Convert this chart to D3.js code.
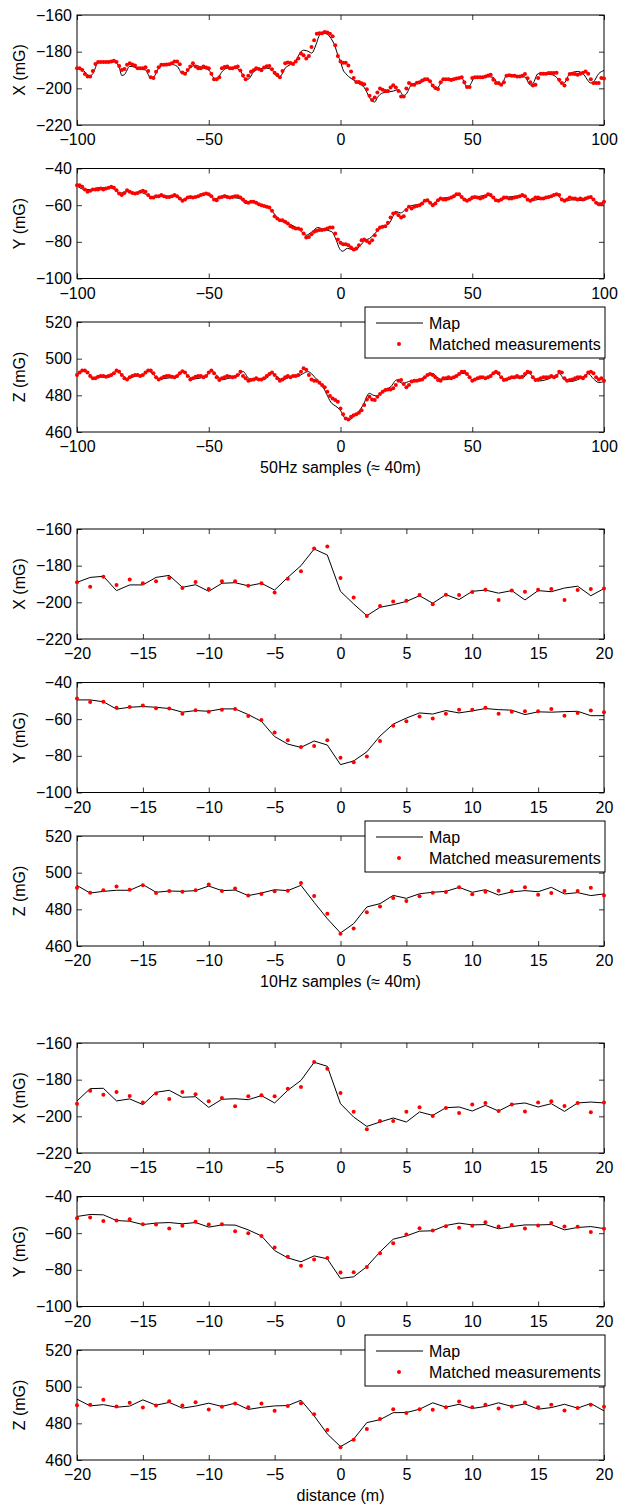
<!DOCTYPE html>
<html><head><meta charset="utf-8">
<script src="https://cdn.jsdelivr.net/npm/d3@7"></script>
<style>
body{margin:0;background:#fff}
svg text{font-family:"Liberation Sans",Arial,Helvetica,sans-serif;fill:#000}
</style>
</head><body>
<svg id="chart" width="620" height="1505"></svg>
<script>
// ---------------- DATA ----------------
// 50 Hz samples (-100..100), measurement dots at every sample
const samples50 = d3.range(-100, 101);
const dotX50 = [
-189.1,-189.1,-190,-192.2,-193.6,-193.6,-190.5,-186.7,-185.6,-185.6,
-185.6,-185.6,-185.6,-185.3,-184.9,-185.6,-187.8,-190,-189.5,-187.2,
-186.3,-187,-187.6,-189,-189,-189,-188.5,-190.5,-194,-194.4,
-190.9,-188.5,-187.2,-187.2,-187,-186.9,-186.3,-185.4,-185.4,-186.9,
-191.4,-192,-190,-188.1,-186.3,-188.1,-189,-189,-188.1,-188.6,
-189,-192,-195,-195,-194,-189,-188.3,-188.1,-189,-189,
-188.5,-188.1,-190.3,-193,-195,-193.2,-191,-190.1,-189,-189.5,
-190.1,-188.7,-188,-187.8,-189.6,-191.5,-192.6,-193.9,-190.5,-186.3,
-185.9,-186.2,-186.7,-185.4,-183.7,-181,-181.9,-183.7,-182.4,-177.4,
-173.8,-170.2,-170,-169.9,-169.3,-169.5,-170.2,-171.6,-176.5,-182.4,
-185.4,-186,-186,-187.5,-190.8,-194.4,-196.6,-196.6,-197.2,-197.8,
-200.5,-204.1,-206.3,-205,-202.3,-200.1,-200.8,-201.4,-201.4,-199.6,
-198.3,-199.6,-201.4,-204.5,-204.5,-200.1,-197.1,-198,-198,-197,
-196.7,-195.7,-195,-195,-196.2,-198.5,-199.8,-200.3,-196.7,-195,
-195,-195,-195.4,-195,-194.6,-194.4,-193.9,-196.7,-199.3,-199.3,
-194.4,-193.9,-193.9,-193.9,-193.9,-193.5,-193,-192.6,-195.3,-197.1,
-197.1,-198,-196.7,-193.2,-192.8,-193.2,-193.2,-193.5,-193.5,-193.2,
-192.2,-194.5,-196.7,-198.5,-198,-194.4,-192,-192,-192,-191.7,
-191.7,-191.7,-191.5,-195.3,-197.1,-198.5,-195,-192.2,-192,-192.2,
-192.6,-192,-191.5,-190.8,-192,-195,-197.1,-197.1,-197.1,-194.4,
-194.6];
const dotY50 = [
-49.1,-49.1,-50,-51.5,-52.7,-52.2,-51.5,-51.5,-51.5,-50.9,
-51.5,-50.9,-50.5,-50,-50.5,-51.8,-53.6,-54.5,-53.3,-51.8,
-52.7,-53.3,-53.6,-53.3,-52.7,-52.2,-52.7,-54.5,-55.8,-55.8,
-55.1,-55.1,-54.5,-55.1,-55.5,-55.5,-55.1,-54.5,-55.1,-56.4,
-57.6,-56.9,-55.8,-55.5,-55.8,-55.5,-55.1,-54.5,-54,-53.6,
-54,-55.1,-56.9,-57.3,-55.8,-55.5,-55.1,-55.5,-55.8,-55.5,
-55.1,-55.1,-55.8,-56.9,-58.2,-58.7,-58.2,-58.2,-58.7,-59.5,
-60,-60.5,-60.9,-61.3,-63.1,-66,-67.3,-68.2,-68.2,-69.1,
-70,-71.5,-72.2,-72.7,-72.7,-73.3,-75.5,-77.6,-77.3,-75.8,
-74.5,-74,-73.6,-73.6,-73.3,-72.7,-72.2,-72.2,-75.5,-78.7,
-80.5,-81.3,-81.3,-81.8,-83.1,-84.2,-83.6,-81.8,-79.1,-78.7,
-79.5,-80.5,-79.1,-76.4,-73.6,-72.2,-71.8,-71.5,-69.6,-66.7,
-64.5,-64.2,-65.5,-66.7,-66,-62.7,-60.9,-61.8,-60.9,-60.5,
-60,-59.1,-57.6,-57.3,-58.7,-60,-59.1,-57.3,-56.4,-56.9,
-56.9,-56.4,-55.8,-55.1,-54,-54,-55.5,-56.9,-57.6,-56.9,
-55.8,-55.5,-55.8,-56.4,-55.8,-55.1,-54,-54.5,-55.8,-57.3,
-57.6,-56.9,-55.8,-55.8,-56.4,-56.4,-55.8,-55.5,-55.1,-54.5,
-55.1,-56.9,-57.6,-56.9,-55.8,-55.8,-56.4,-56.4,-55.8,-55.5,
-55.1,-54.5,-54,-54.5,-56.9,-57.6,-56.9,-55.8,-56.4,-56.4,
-56.9,-56.4,-56.9,-56.4,-55.8,-55.5,-56.9,-58.7,-59.5,-59.5,
-58.2];
const dotZ50 = [
491.1,492.4,493.5,493.5,492.4,490.6,489.3,489.3,490.2,490.6,
490.6,490.2,490.6,491.1,492,493.5,492.9,491.1,489.3,488.7,
489.8,490.6,491.1,491.1,490.6,491.1,492.4,493.5,493.5,492,
489.8,488.7,489.3,490.2,490.6,490.6,490.2,489.8,490.6,492,
493.1,492.4,490.6,488.7,489.3,490.2,490.6,490.6,489.8,490.6,
492.4,493.5,492,489.8,488.4,489.3,489.8,490.6,490.2,489.8,
490.2,491.1,492.9,490.6,489.3,488,488.4,488.7,489.3,488.7,
488.7,489.3,490.6,491.7,492.4,491.1,489.3,488,488.7,489.8,
490.6,489.8,490.6,490.6,491.1,492.9,494.8,493.9,491.1,488.7,
488,488,486.9,485.6,484.4,482,479.6,478.3,477.4,476.5,
472.8,469.7,467.3,466.8,468.3,469.2,469.7,470.5,471.9,474.7,
477.7,479.2,477.7,477.4,479.2,480.7,482,482.9,483.2,483.2,
483.8,485.6,488,488.4,486.2,484.4,485.6,487.5,488,488,
488.4,488.7,489.8,491.1,491.7,491.1,489.8,488.4,488,489.3,
489.3,489.8,489.3,489.8,490.6,491.7,492.9,492.9,491.7,489.8,
488,488.7,489.3,489.8,489.8,489.3,489.8,490.6,492,492.9,
492,489.8,488.4,488.7,489.3,489.8,489.8,490.6,489.8,490.2,
491.7,492.9,492.4,489.8,488.4,488.7,489.3,489.8,489.8,489.8,
490.6,489.8,490.6,492.9,492.4,489.3,488,488.4,488.7,489.3,
489.8,489.8,489.3,490.6,492.4,492.9,492,489.8,488.7,489.3,
488];
// 50 Hz map curve, read at key sample positions
const mapX50s = [-100,-98,-96,-95,-94,-92,-90,-88,-86,-84,-83,-82,-80,-78,-76,-74,-72,-71,-69,-67,-64,-62,-60,-59,-57,-55,-52,-50,-48,-47,-45,-43,-40,-38,-36,-35,-33,-31,-28,-26,-24,-23,-21,-19,-17,-15,-14,-12,-11,-9,-8,-7,-6,-5,-4,-2,-1,0,1,2,3,5,7,9,11,12,13,14,16,18,20,22,24,25,27,30,33,34,36,37,39,43,46,48,49,51,55,58,60,61,63,67,70,72,73,75,80,82,84,85,87,90,92,95,96,98,100];
const mapX50 = [-189,-189.8,-192.5,-193.3,-192,-186,-185.5,-185.7,-185.5,-188.5,-193,-192.5,-188,-188.5,-189.5,-190,-194.5,-194,-189,-187,-187,-188,-192,-192,-188.5,-187.5,-189,-190,-194.5,-195,-191,-189,-189,-190.5,-195,-195,-191,-189.5,-189,-190,-193.5,-193.5,-189,-187,-185,-180,-179.2,-180,-180.8,-175,-171,-170.2,-170.1,-170.5,-172,-177.4,-182,-185.4,-190,-192,-193.5,-195.5,-197.5,-199.5,-205,-207,-207.4,-205,-202.5,-202,-201.5,-200.7,-204,-203,-198,-197,-195.5,-196.5,-200.4,-199.5,-195.5,-194.6,-194.5,-199.3,-198.5,-194,-193.6,-194,-198,-198,-193.2,-193.5,-193.8,-198.2,-197.5,-192,-192.5,-194,-197.5,-197,-192,-190.8,-192,-197.1,-196.5,-192,-190.3];
const mapY50s = [-100,-97,-95,-92,-88,-86,-84,-82,-80,-78,-76,-74,-72,-70,-67,-64,-62,-60,-58,-55,-52,-50,-48,-46,-44,-42,-40,-38,-36,-34,-32,-29.6,-27.3,-25.5,-24.3,-22,-19,-15.4,-13.1,-10.9,-8.6,-6.4,-3.3,-1.6,-0.4,0.8,2.6,4,5.6,7.5,9.4,11,12.4,15.4,18.4,21.3,22.8,25.8,27.8,30,32.6,34.8,37.1,39.3,42,44.5,47,49,52,56,59,61,64,69,72,74,78,82,85,88,92,95,98,100];
const mapY50 = [-49.5,-51.5,-51.5,-50.5,-50.5,-51,-53.5,-53,-52.5,-53.5,-53,-54,-55.5,-55.5,-55,-55.5,-55,-57,-56,-55.5,-54.2,-54,-56.5,-56,-54.5,-55.5,-56,-56.5,-59.1,-58.2,-59,-60,-61,-64,-66.4,-69,-70.5,-73.6,-76.4,-74.6,-72.2,-73.3,-74.5,-79.1,-83.6,-85.1,-83.6,-84,-84.5,-82,-79.1,-78.2,-76.4,-72.2,-70,-63.6,-64.2,-60.9,-60,-59.5,-57.3,-59.5,-57.3,-56,-55.8,-54.5,-56.8,-57,-55.5,-54.5,-57,-57,-55.5,-55,-57.5,-57.2,-56,-54.5,-57.8,-57,-57.5,-56,-59,-58.5];
const mapZ50s = [-100,-98,-96,-94,-92,-88,-85,-83,-81,-78,-75,-73,-71,-69,-65,-62,-60,-58,-56,-53,-51,-49,-47,-45,-42,-39,-37,-35,-33,-30,-28,-26,-24,-22,-19,-16,-14,-12.4,-9.4,-6.4,-3.3,-1.8,-0.1,1.9,3.4,5.6,8.6,10.9,12.4,13.9,16.1,19.1,21.3,23.6,26.6,29,32.6,34.8,37,39,43,46,48,50,53,56,59,61,63,66,69,71.5,73.5,75,78,81,83,85,87,90,92,94,96,98,100];
const mapZ50 = [491.5,493.2,492.5,489.5,490,490,493,491.5,489,490.5,491,493.2,491.5,489,489.5,490,493,491,489,489.5,490.5,493.3,491,488.5,489.5,490.5,493,489.5,488.5,488.5,489.5,492,490,488.5,490,490.5,492,492.9,489.3,483.8,475.6,474.1,471.9,467.3,466.8,469.2,474.7,481.1,480.1,479.6,482.5,484.7,488.4,486.5,487.8,488,490.5,492,489.5,488.5,489.5,492,491.5,488.5,489,490,492.2,490,488.5,489.5,489.5,492.2,489,487.8,488.5,490.3,491.8,488.5,487.5,488.5,490,491.8,489,487,487.5];

// 10 Hz samples (-20..20)
const samples10 = d3.range(-20, 21);
const mapX10 = [-189.1,-186.4,-185.8,-193.6,-190.5,-190.5,-186.4,-185.3,-191.8,-190.4,-194,-189.6,-189.3,-191,-189.6,-193.3,-186.4,-180,-170.9,-174.2,-194,-200.9,-207.3,-202.7,-201.3,-199.5,-196.4,-200.5,-195.8,-198.5,-194,-193.3,-195,-193.6,-198.7,-193.6,-194.2,-192.2,-191.2,-196.4,-192.5];
const dotX10 = [-189.1,-191.5,-186,-190.5,-187.5,-189.6,-188.5,-186.7,-192.2,-188.9,-192.7,-188.5,-188.5,-191,-189.6,-194.7,-187.1,-183.1,-170.7,-169.5,-186.7,-197.3,-207.5,-202,-199.5,-199.1,-196,-201.1,-195.8,-196,-194.4,-193.1,-198.7,-193.6,-194.2,-193.1,-192.7,-198.7,-193.3,-192.7,-192.5];
const mapY10 = [-49.5,-49.5,-50.5,-54.5,-53.5,-53.1,-53.5,-54.2,-56.2,-55.3,-55.7,-54.4,-54.4,-57.5,-61.2,-69.5,-73.6,-75.4,-71.9,-74.1,-84.8,-82.8,-77.8,-69.2,-62.7,-59.4,-56.6,-57.2,-55.3,-56.6,-55.5,-54.2,-54.8,-55.1,-57.5,-56,-56.2,-55.9,-55.7,-58.1,-58.1];
const dotY10 = [-48.7,-50.7,-50.5,-53.8,-53.3,-52.5,-54,-54.2,-57,-55.1,-55.9,-54.9,-54.4,-58.3,-60.5,-67.3,-71.5,-75.2,-74.7,-71.5,-81,-83.5,-80.4,-71.9,-63.6,-61.2,-58.6,-59.7,-57,-54.9,-54.9,-53.8,-57,-56,-55.7,-55.7,-54.4,-58.1,-56.6,-55.3,-56.2];
const mapZ10 = [493,488.9,489.8,490.4,490.4,493.5,489.3,490,489.8,490.2,492.7,490.2,490.5,487.5,488.9,490.7,490.2,493.1,483.8,474.9,467.1,472.2,481.3,483.1,487.6,486,488.5,489.3,489.8,492,489.3,490.7,487.8,489.5,490.2,489.6,492,488.4,489.1,487.5,488.4];
const dotZ10 = [491.8,489.1,490.4,492.4,490.7,493.1,488.9,490,489.6,490.4,493.5,490,491.3,487.5,488.4,489.8,490.2,494.4,487.3,477.6,466.7,469.5,478.4,481.6,486.2,484.5,487.1,489.1,489.5,492,488.2,489.6,490.2,489.8,492,488,488.9,490,490,491.8,487.5];

// distance (m), -20..20
const distances = d3.range(-20, 21);
const mapXd = [-191.6,-184.9,-184.7,-191.6,-190.5,-193.6,-186.9,-185.8,-189.6,-189.3,-195.1,-190.7,-190.4,-190.9,-188.7,-192.7,-185.8,-180.4,-170.5,-172.7,-193.1,-200.4,-205.5,-203.1,-200.9,-203.1,-197.6,-199.5,-195.3,-194.9,-197.1,-194,-197.1,-193.5,-192.7,-194.9,-193.1,-197.3,-192.7,-192.2,-192.7];
const dotXd = [-193.1,-186,-188.2,-186.7,-188.9,-192.5,-187.5,-190.5,-186.7,-188,-191.8,-190,-194.5,-189.1,-188.5,-189.1,-184.9,-184,-170.4,-174,-187.3,-197.5,-207.1,-202.5,-202.5,-197.5,-195.1,-199.8,-195.5,-198.2,-193.6,-192.7,-197.1,-193.6,-197.3,-192.5,-191.8,-194.4,-192.7,-197.8,-192.5];
const mapYd = [-50.9,-49.8,-50,-53.1,-53.5,-55.3,-54.5,-54.2,-54.9,-54.2,-56.7,-55.5,-55.6,-58.2,-61.5,-69.5,-73.5,-75.6,-72.4,-74,-84.7,-83.8,-78.2,-70.2,-63.3,-61.5,-58.9,-58.7,-55.8,-54.5,-55.5,-55.3,-57.6,-56.4,-55.5,-55.5,-55.3,-58.2,-56.9,-56.4,-57.5];
const dotYd = [-51.8,-51.5,-53.3,-53.1,-52.4,-55.1,-55.3,-57.5,-56,-53.8,-55.3,-55.1,-58.9,-60,-61.6,-67.8,-72.9,-77.8,-74.4,-73.6,-81.5,-81.3,-78.5,-70.9,-65.5,-60.7,-57.3,-58.5,-56.2,-57.1,-56,-54,-56.4,-55.5,-57.5,-55.8,-54.4,-56.4,-56.5,-59.3,-57.6];
const mapZd = [493.2,489.5,490.2,488.8,489.4,492.8,489.9,491.4,488.3,489.4,491,489.2,491,487.6,488.7,489.5,489.7,492.6,484.1,474.2,467.3,471.4,480.4,482,485.8,485.9,487.7,491.2,488.8,490.4,488.1,489.2,491.2,489.2,490.6,487.7,488.6,490.4,488.3,490.8,486.8];
const dotZd = [489.9,490.1,492.8,489.2,491.2,488.7,489.7,492.1,489.7,491.5,487.6,489,490.8,488.8,490.8,486.8,489.5,491,484.9,476.3,466.9,471.1,476.9,482.3,487.7,485.6,487.7,487.4,488.8,491.9,488.8,490.1,488.1,489.2,491.4,488.8,490.1,487,488.3,490.1,489];

// ticks and labels
const xTicks50 = [-100, -50, 0, 50, 100];
const xTicks10 = [-20, -15, -10, -5, 0, 5, 10, 15, 20];
const yTicksX = [-220, -200, -180, -160];
const yTicksY = [-100, -80, -60, -40];
const yTicksZ = [460, 480, 500, 520];
const yLabels = ["X (mG)", "Y (mG)", "Z (mG)"];
const xLabels = ["50Hz samples (\u2248 40m)", "10Hz samples (\u2248 40m)", "distance (m)"];
const legendLabels = ["Map", "Matched measurements"];

// ---------------- LAYOUT ----------------
const svg = d3.select("#chart");
const L = 77, R = 604, PH = 110;
const groupTops = [15, 529, 1043];
const panelStep = 153.5;
const FS = 16;

const groups = [
  {xdom:[-100,100], xt:xTicks50, curve:d3.curveMonotoneX,
   panels:[
     {ydom:[-220,-160], yt:yTicksX, ms:mapX50s, mv:mapX50, ds:samples50, dv:dotX50},
     {ydom:[-100,-40], yt:yTicksY, ms:mapY50s, mv:mapY50, ds:samples50, dv:dotY50},
     {ydom:[460,520], yt:yTicksZ, ms:mapZ50s, mv:mapZ50, ds:samples50, dv:dotZ50}]},
  {xdom:[-20,20], xt:xTicks10, curve:d3.curveLinear,
   panels:[
     {ydom:[-220,-160], yt:yTicksX, ms:samples10, mv:mapX10, ds:samples10, dv:dotX10},
     {ydom:[-100,-40], yt:yTicksY, ms:samples10, mv:mapY10, ds:samples10, dv:dotY10},
     {ydom:[460,520], yt:yTicksZ, ms:samples10, mv:mapZ10, ds:samples10, dv:dotZ10}]},
  {xdom:[-20,20], xt:xTicks10, curve:d3.curveLinear,
   panels:[
     {ydom:[-220,-160], yt:yTicksX, ms:distances, mv:mapXd, ds:distances, dv:dotXd},
     {ydom:[-100,-40], yt:yTicksY, ms:distances, mv:mapYd, ds:distances, dv:dotYd},
     {ydom:[460,520], yt:yTicksZ, ms:distances, mv:mapZd, ds:distances, dv:dotZd}]}
];

function styleAxis(sel){
  sel.attr("font-size", FS).attr("font-family", '"Liberation Sans",Arial,Helvetica,sans-serif');
  sel.select(".domain").remove();
  sel.selectAll(".tick line").attr("stroke", "#000").attr("stroke-width", 0.8);
}

groups.forEach((grp, gi) => {
  const x = d3.scaleLinear().domain(grp.xdom).range([L, R]);
  grp.panels.forEach((p, pi) => {
    const top = groupTops[gi] + pi * panelStep;
    const bot = top + PH;
    const y = d3.scaleLinear().domain(p.ydom).range([bot, top]);
    const g = svg.append("g");

    g.append("g").attr("transform", `translate(0,${bot})`)
      .call(d3.axisBottom(x).tickValues(grp.xt).tickSizeInner(-5).tickSizeOuter(0).tickPadding(9))
      .call(styleAxis);
    g.append("g").attr("transform", `translate(0,${top})`)
      .call(d3.axisTop(x).tickValues(grp.xt).tickSizeInner(-5).tickSizeOuter(0).tickFormat(""))
      .call(styleAxis);
    g.append("g").attr("transform", `translate(${L},0)`)
      .call(d3.axisLeft(y).tickValues(p.yt).tickSizeInner(-5).tickSizeOuter(0).tickPadding(5))
      .call(styleAxis);
    g.append("g").attr("transform", `translate(${R},0)`)
      .call(d3.axisRight(y).tickValues(p.yt).tickSizeInner(-5).tickSizeOuter(0).tickFormat(""))
      .call(styleAxis);

    g.append("rect").attr("x", L).attr("y", top).attr("width", R - L).attr("height", PH)
      .attr("fill", "none").attr("stroke", "#000").attr("stroke-width", 1);

    const line = d3.line().x(d => x(d[0])).y(d => y(d[1])).curve(grp.curve);
    g.append("path").datum(p.ms.map((s, i) => [s, p.mv[i]]))
      .attr("d", line).attr("fill", "none").attr("stroke", "#000").attr("stroke-width", 1);

    g.selectAll("circle.m").data(p.ds.map((s, i) => [s, p.dv[i]])).join("circle")
      .attr("class", "m").attr("cx", d => x(d[0])).attr("cy", d => y(d[1]))
      .attr("r", 2).attr("fill", "#ff0000");

    g.append("text").attr("transform", `translate(19,${top + PH / 2}) rotate(-90)`)
      .attr("text-anchor", "middle").attr("dy", "0.35em").attr("font-size", FS)
      .text(yLabels[pi]);

    if (pi === 2) {
      // legend
      const lg = g.append("g").attr("transform", `translate(365,${top - 15})`);
      lg.append("rect").attr("width", 240).attr("height", 51)
        .attr("fill", "#fff").attr("stroke", "#000").attr("stroke-width", 1);
      lg.append("line").attr("x1", 11).attr("x2", 58).attr("y1", 16).attr("y2", 16)
        .attr("stroke", "#000").attr("stroke-width", 1);
      lg.append("circle").attr("cx", 34).attr("cy", 37).attr("r", 2).attr("fill", "#ff0000");
      lg.append("text").attr("x", 64).attr("y", 16).attr("dy", "0.35em").attr("font-size", FS).text(legendLabels[0]);
      lg.append("text").attr("x", 64).attr("y", 37).attr("dy", "0.35em").attr("font-size", FS).text(legendLabels[1]);
      // x label
      g.append("text").attr("x", (L + R) / 2).attr("y", bot + 35).attr("dy", "0.35em")
        .attr("text-anchor", "middle").attr("font-size", FS).text(xLabels[gi]);
    }
  });
});
</script>
</body></html>
